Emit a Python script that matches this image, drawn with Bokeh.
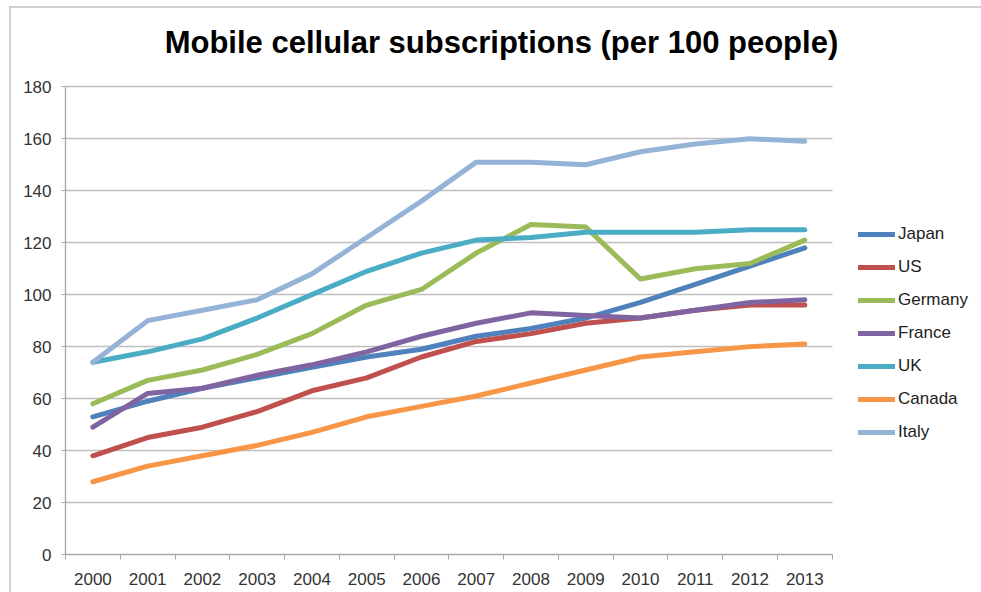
from bokeh.plotting import figure
from bokeh.models import FixedTicker, Legend, Label
from bokeh.embed import file_html
from bokeh.resources import INLINE

years = list(range(2000, 2014))
japan   = [53, 59, 64, 68, 72, 76, 79, 84, 87, 91, 97, 104, 111, 118]
us      = [38, 45, 49, 55, 63, 68, 76, 82, 85, 89, 91, 94, 96, 96]
germany = [58, 67, 71, 77, 85, 96, 102, 116, 127, 126, 106, 110, 112, 121]
france  = [49, 62, 64, 69, 73, 78, 84, 89, 93, 92, 91, 94, 97, 98]
uk      = [74, 78, 83, 91, 100, 109, 116, 121, 122, 124, 124, 124, 125, 125]
canada  = [28, 34, 38, 42, 47, 53, 57, 61, 66, 71, 76, 78, 80, 81]
italy   = [74, 90, 94, 98, 108, 122, 136, 151, 151, 150, 155, 158, 160, 159]
y_ticks = list(range(0, 181, 20))
title_text = "Mobile cellular subscriptions (per 100 people)"

series = [
    ("Japan", japan, "#4F81BD"),
    ("US", us, "#C0504D"),
    ("Germany", germany, "#9BBB59"),
    ("France", france, "#8064A2"),
    ("UK", uk, "#4BACC6"),
    ("Canada", canada, "#F79646"),
    ("Italy", italy, "#95B3D7"),
]

FONT = "Liberation Sans"

# plot area: 14 category slots over 765 px, 180 units over 466 px;
# the frame is extended up and right so the title and legend sit inside it
X0, X1 = years[0] - 0.5, years[-1] + 0.5
slot_px = 765 / 14
x_end = X0 + 916 / slot_px
y_end = 180 * 544 / 466

p = figure(width=970, height=584, output_backend="svg", toolbar_location=None,
           x_range=(X0, x_end), y_range=(0, y_end),
           min_border_left=54, min_border_right=0, min_border_top=0, min_border_bottom=40,
           styles={"margin-left": "9px", "margin-top": "6px", "box-sizing": "content-box",
                   "overflow": "hidden",
                   "border-left": "2px solid #d0d0d0", "border-top": "2px solid #d0d0d0"})
p.outline_line_color = None
p.background_fill_color = "white"
p.border_fill_color = "white"

items = []
for name, vals, color in series:
    r = p.line(years, vals, line_color=color, line_width=5, line_join="round",
               line_cap="round")
    items.append((name, [r]))

# x axis: labels at centres, tick marks between categories
p.xaxis.bounds = (X0, X1)
p.xaxis.ticker = FixedTicker(ticks=years, minor_ticks=[y - 0.5 for y in years] + [X1])
p.xaxis.major_tick_line_color = None
p.xaxis.major_tick_out = 0
p.xaxis.major_tick_in = 0
p.xaxis.minor_tick_out = 5
p.xaxis.minor_tick_in = 0
p.xaxis.minor_tick_line_color = "#a6a6a6"
p.xaxis.axis_line_color = "#a6a6a6"
p.xaxis.axis_line_width = 1.3
p.xaxis.major_label_standoff = 13

p.yaxis.bounds = (0, 180)
p.yaxis.ticker = FixedTicker(ticks=y_ticks, minor_ticks=[])
p.yaxis.major_tick_out = 4
p.yaxis.major_tick_in = 0
p.yaxis.major_tick_line_color = "#a6a6a6"
p.yaxis.axis_line_color = "#a6a6a6"
p.yaxis.axis_line_width = 1.3
p.yaxis.major_label_standoff = 10

for ax in (p.xaxis, p.yaxis):
    ax.major_label_text_font = FONT
    ax.major_label_text_font_size = "17px"
    ax.major_label_text_color = "#333333"

p.xgrid.grid_line_color = None
p.ygrid.ticker = FixedTicker(ticks=y_ticks)
p.ygrid.cross_bounds = (X0, X1)
p.ygrid.grid_line_color = "#bfbfbf"
p.ygrid.grid_line_width = 1.3

lg = Legend(items=items, location=(793, 112))
lg.padding = 0
lg.margin = 0
lg.border_line_color = None
lg.background_fill_alpha = 0
lg.glyph_width = 37
lg.glyph_height = 20
lg.label_height = 20
lg.spacing = 13
lg.label_standoff = 3
lg.label_text_font = FONT
lg.label_text_font_size = "17px"
lg.label_text_color = "#222222"
p.add_layout(lg)

title = Label(x=X0 + 435 / slot_px, y=(552 - 42) * 180 / 466, text=title_text,
              text_align="center", text_baseline="alphabetic", text_font=FONT,
              text_font_size="31px", text_font_style="bold", text_color="#000000")
p.add_layout(title)

open("out.html", "w").write(file_html(p, INLINE))
